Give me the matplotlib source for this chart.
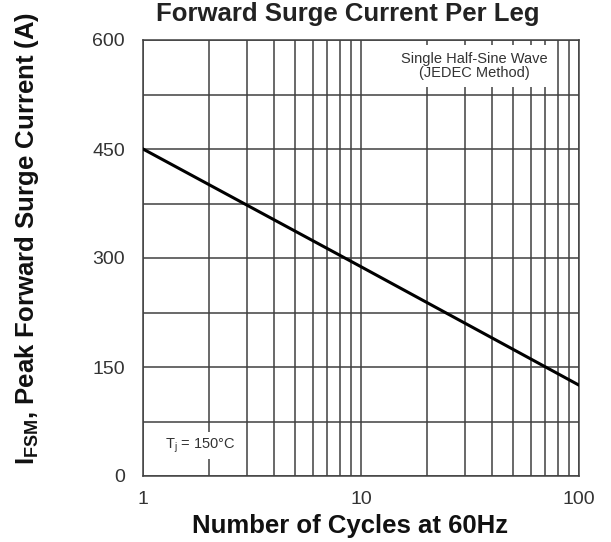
import matplotlib.pyplot as plt
from matplotlib.ticker import FixedLocator, NullFormatter

plt.rcParams['font.family'] = ['Liberation Sans', 'DejaVu Sans']
plt.rcParams['mathtext.fontset'] = 'custom'
plt.rcParams['mathtext.rm'] = 'Liberation Sans'
plt.rcParams['mathtext.bf'] = 'Liberation Sans:bold'

cycles = [1, 10, 100]
surge_current = [450, 288, 125]

x_ticks = [1, 10, 100]
y_ticks = [0, 150, 300, 450, 600]

W, H = 611, 542
fig = plt.figure(figsize=(W / 100, H / 100), dpi=100)
ax = fig.add_axes([143 / W, 1 - 476 / H, 436 / W, 436 / H])

ax.plot(cycles, surge_current, color='black', linewidth=2.2, zorder=3)

ax.set_xscale('log')
ax.set_xlim(1, 100)
ax.set_ylim(0, 600)
ax.set_xticks(x_ticks)
ax.set_xticklabels(['1', '10', '100'])
ax.xaxis.set_minor_locator(FixedLocator([2, 3, 4, 5, 6, 7, 8, 9, 20, 30, 40, 50, 60, 70, 80, 90]))
ax.xaxis.set_minor_formatter(NullFormatter())
ax.set_yticks(y_ticks)
ax.yaxis.set_minor_locator(FixedLocator([75, 225, 375, 525]))

ax.grid(True, which='both', color='#404040', linewidth=1.1, zorder=1)
ax.tick_params(which='both', length=0)
ax.tick_params(axis='y', pad=13, labelsize=14, labelcolor='#333333')
ax.tick_params(axis='x', pad=11, labelsize=14, labelcolor='#333333')
for s in ax.spines.values():
    s.set_color('#404040')
    s.set_linewidth(1.1)

fig.text(348 / W, 1 - 21 / H, 'Forward Surge Current Per Leg', fontsize=18.5,
         fontweight='bold', color='#222222', ha='center', va='baseline')
fig.text(350 / W, 1 - 533 / H, 'Number of Cycles at 60Hz', fontsize=18.5,
         fontweight='bold', color='#111111', ha='center', va='baseline')
fig.text(27 / W, 1 - 238 / H, r'I$_{\mathbf{FSM}}$, Peak Forward Surge Current (A)',
         fontsize=18.5, fontweight='bold', color='#111111', rotation=90,
         ha='center', va='center')

ax.text(0.761, 0.972, 'Single Half-Sine Wave\n(JEDEC Method)', transform=ax.transAxes,
        ha='center', va='top', fontsize=10.5, color='#333333', linespacing=0.95,
        bbox=dict(facecolor='white', edgecolor='none', pad=5), zorder=4)
ax.text(0.05, 0.07, r'T$_\mathrm{j}$ = 150°C', transform=ax.transAxes,
        ha='left', va='center', fontsize=10.5, color='#333333',
        bbox=dict(facecolor='white', edgecolor='none', pad=3), zorder=4)

plt.savefig('out.png', dpi=100)
